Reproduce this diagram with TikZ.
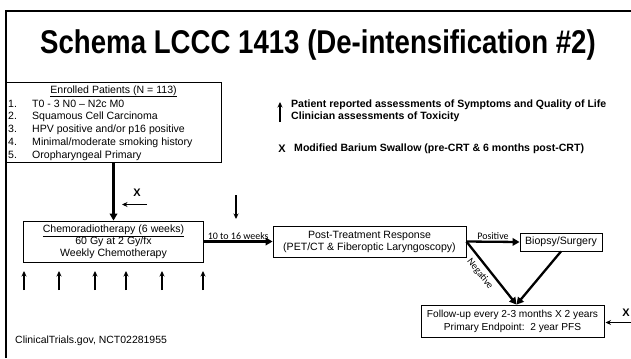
\documentclass[tikz,border=0pt]{standalone}
\usepackage{fontspec}
\setmainfont{Liberation Sans}
\newfontfamily\calfont{Carlito}
\usetikzlibrary{arrows.meta}
\begin{document}
\begin{tikzpicture}[x=1bp,y=-1bp,
  box/.style={draw, line width=0.8bp, inner sep=0pt, align=center, font=\fontsize{10.6}{12}\selectfont},
  bigarrow/.style={line width=2.3bp, -{Triangle[length=7bp,width=7.5bp]}},
  smallarrow/.style={line width=1.3bp, -{Stealth[length=5.5bp,width=5bp]}},
  smalllbl/.style={font=\calfont\fontsize{10}{11}\selectfont, inner sep=1bp},
  legend/.style={font=\bfseries\fontsize{10.6}{12}\selectfont, anchor=west, inner sep=0pt},
  xmark/.style={font=\bfseries\fontsize{11}{12}\selectfont, inner sep=0pt}
]
\useasboundingbox (0,0) rectangle (631,358);
% frame
\draw[line width=2bp] (5.5,358) -- (5.5,10.5) -- (631,10.5);
% title
\node[font=\bfseries\fontsize{33}{36}\selectfont] (title) at (318,45) {\scalebox{0.84}[1]{Schema LCCC 1413 (De-intensification \#2)}};
% enrolled
\node[box, minimum width=215bp, minimum height=80bp] (enroll) at (113.5,122) {};
\node[font=\fontsize{10.6}{12.8}\selectfont, anchor=base, inner sep=0pt] (ehead) at (113.5,93) {\underline{Enrolled Patients (N = 113)}};
\node[font=\fontsize{10.6}{12.8}\selectfont, anchor=base west, inner sep=0pt] (elist) at (8,107) {\begin{tabular}[t]{@{}l@{\hspace{15.2bp}}l@{}}
1. & T0 - 3 N0 -- N2c M0\\
2. & Squamous Cell Carcinoma\\
3. & HPV positive and/or p16 positive\\
4. & Minimal/moderate smoking history\\
5. & Oropharyngeal Primary
\end{tabular}};
% chemo
\node[box, minimum width=180bp, minimum height=41bp] (chemo) at (113.5,241.5) {\underline{Chemoradiotherapy (6 weeks)}\\60 Gy at 2 Gy/fx\\Weekly Chemotherapy};
% post
\node[box, minimum width=193bp, minimum height=31bp] (post) at (369.5,241.5) {Post-Treatment Response\\(PET/CT \& Fiberoptic Laryngoscopy)};
% biopsy
\node[box, minimum width=82bp, minimum height=18bp] (biopsy) at (561,242) {Biopsy/Surgery};
% follow-up
\node[box, minimum width=183bp, minimum height=32bp, font=\fontsize{10.2}{13}\selectfont] (follow) at (512.5,321) {Follow-up every 2-3 months X 2 years\\Primary Endpoint:\ \ 2 year PFS};
% main arrows
\draw[bigarrow] (enroll.south) -- (chemo.north);
\draw[bigarrow] (chemo.east) -- node[smalllbl, above] (weeks) {10 to 16 weeks} (post.west);
\draw[bigarrow] (post.east) -- node[smalllbl, above] (pos) {Positive} (biopsy.west);
\draw[bigarrow] (post.east) -- node[smalllbl, sloped, below=3bp, pos=0.42] (neg) {Negative} ([xshift=4bp]follow.north);
\draw[bigarrow] (biopsy.south) -- ([xshift=4bp]follow.north);
% X before chemo
\node[xmark] (xa) at (137,193) {X};
\coordinate (xaS) at (147,204.5);
\coordinate (xaE) at (122,204.5);
\draw[smallarrow] (xaS) -- (xaE);
% down arrow
\coordinate (dnS) at (236,195);
\coordinate (dnE) at (236,219);
\draw[smallarrow] (dnS) -- (dnE);
% up arrows
\foreach \i/\xx in {1/24,2/59,3/95,4/126,5/162,6/203}{
  \coordinate (upS\i) at (\xx,290);
  \coordinate (upE\i) at (\xx,271);
  \draw[smallarrow] (upS\i) -- (upE\i);
}
% X after follow
\node[xmark] (xb) at (626,313) {X};
\coordinate (xbS) at (631,322.5);
\coordinate (xbE) at (605.5,322.5);
\draw[smallarrow] (xbS) -- (xbE);
% legend
\coordinate (lgS) at (280,122);
\coordinate (lgE) at (280,102);
\draw[smallarrow] (lgS) -- (lgE);
\node[legend] (l1) at (291,104.5) {Patient reported assessments of Symptoms and Quality of Life};
\node[legend] (l2) at (291,117) {Clinician assessments of Toxicity};
\node[xmark] (lx) at (282,149) {X};
\node[legend] (l3) at (294,149) {Modified Barium Swallow (pre-CRT \& 6 months post-CRT)};
% source
\node[font=\fontsize{10.5}{12}\selectfont, anchor=west, inner sep=0pt] (src) at (15,341) {ClinicalTrials.gov, NCT02281955};
\end{tikzpicture}
\end{document}
